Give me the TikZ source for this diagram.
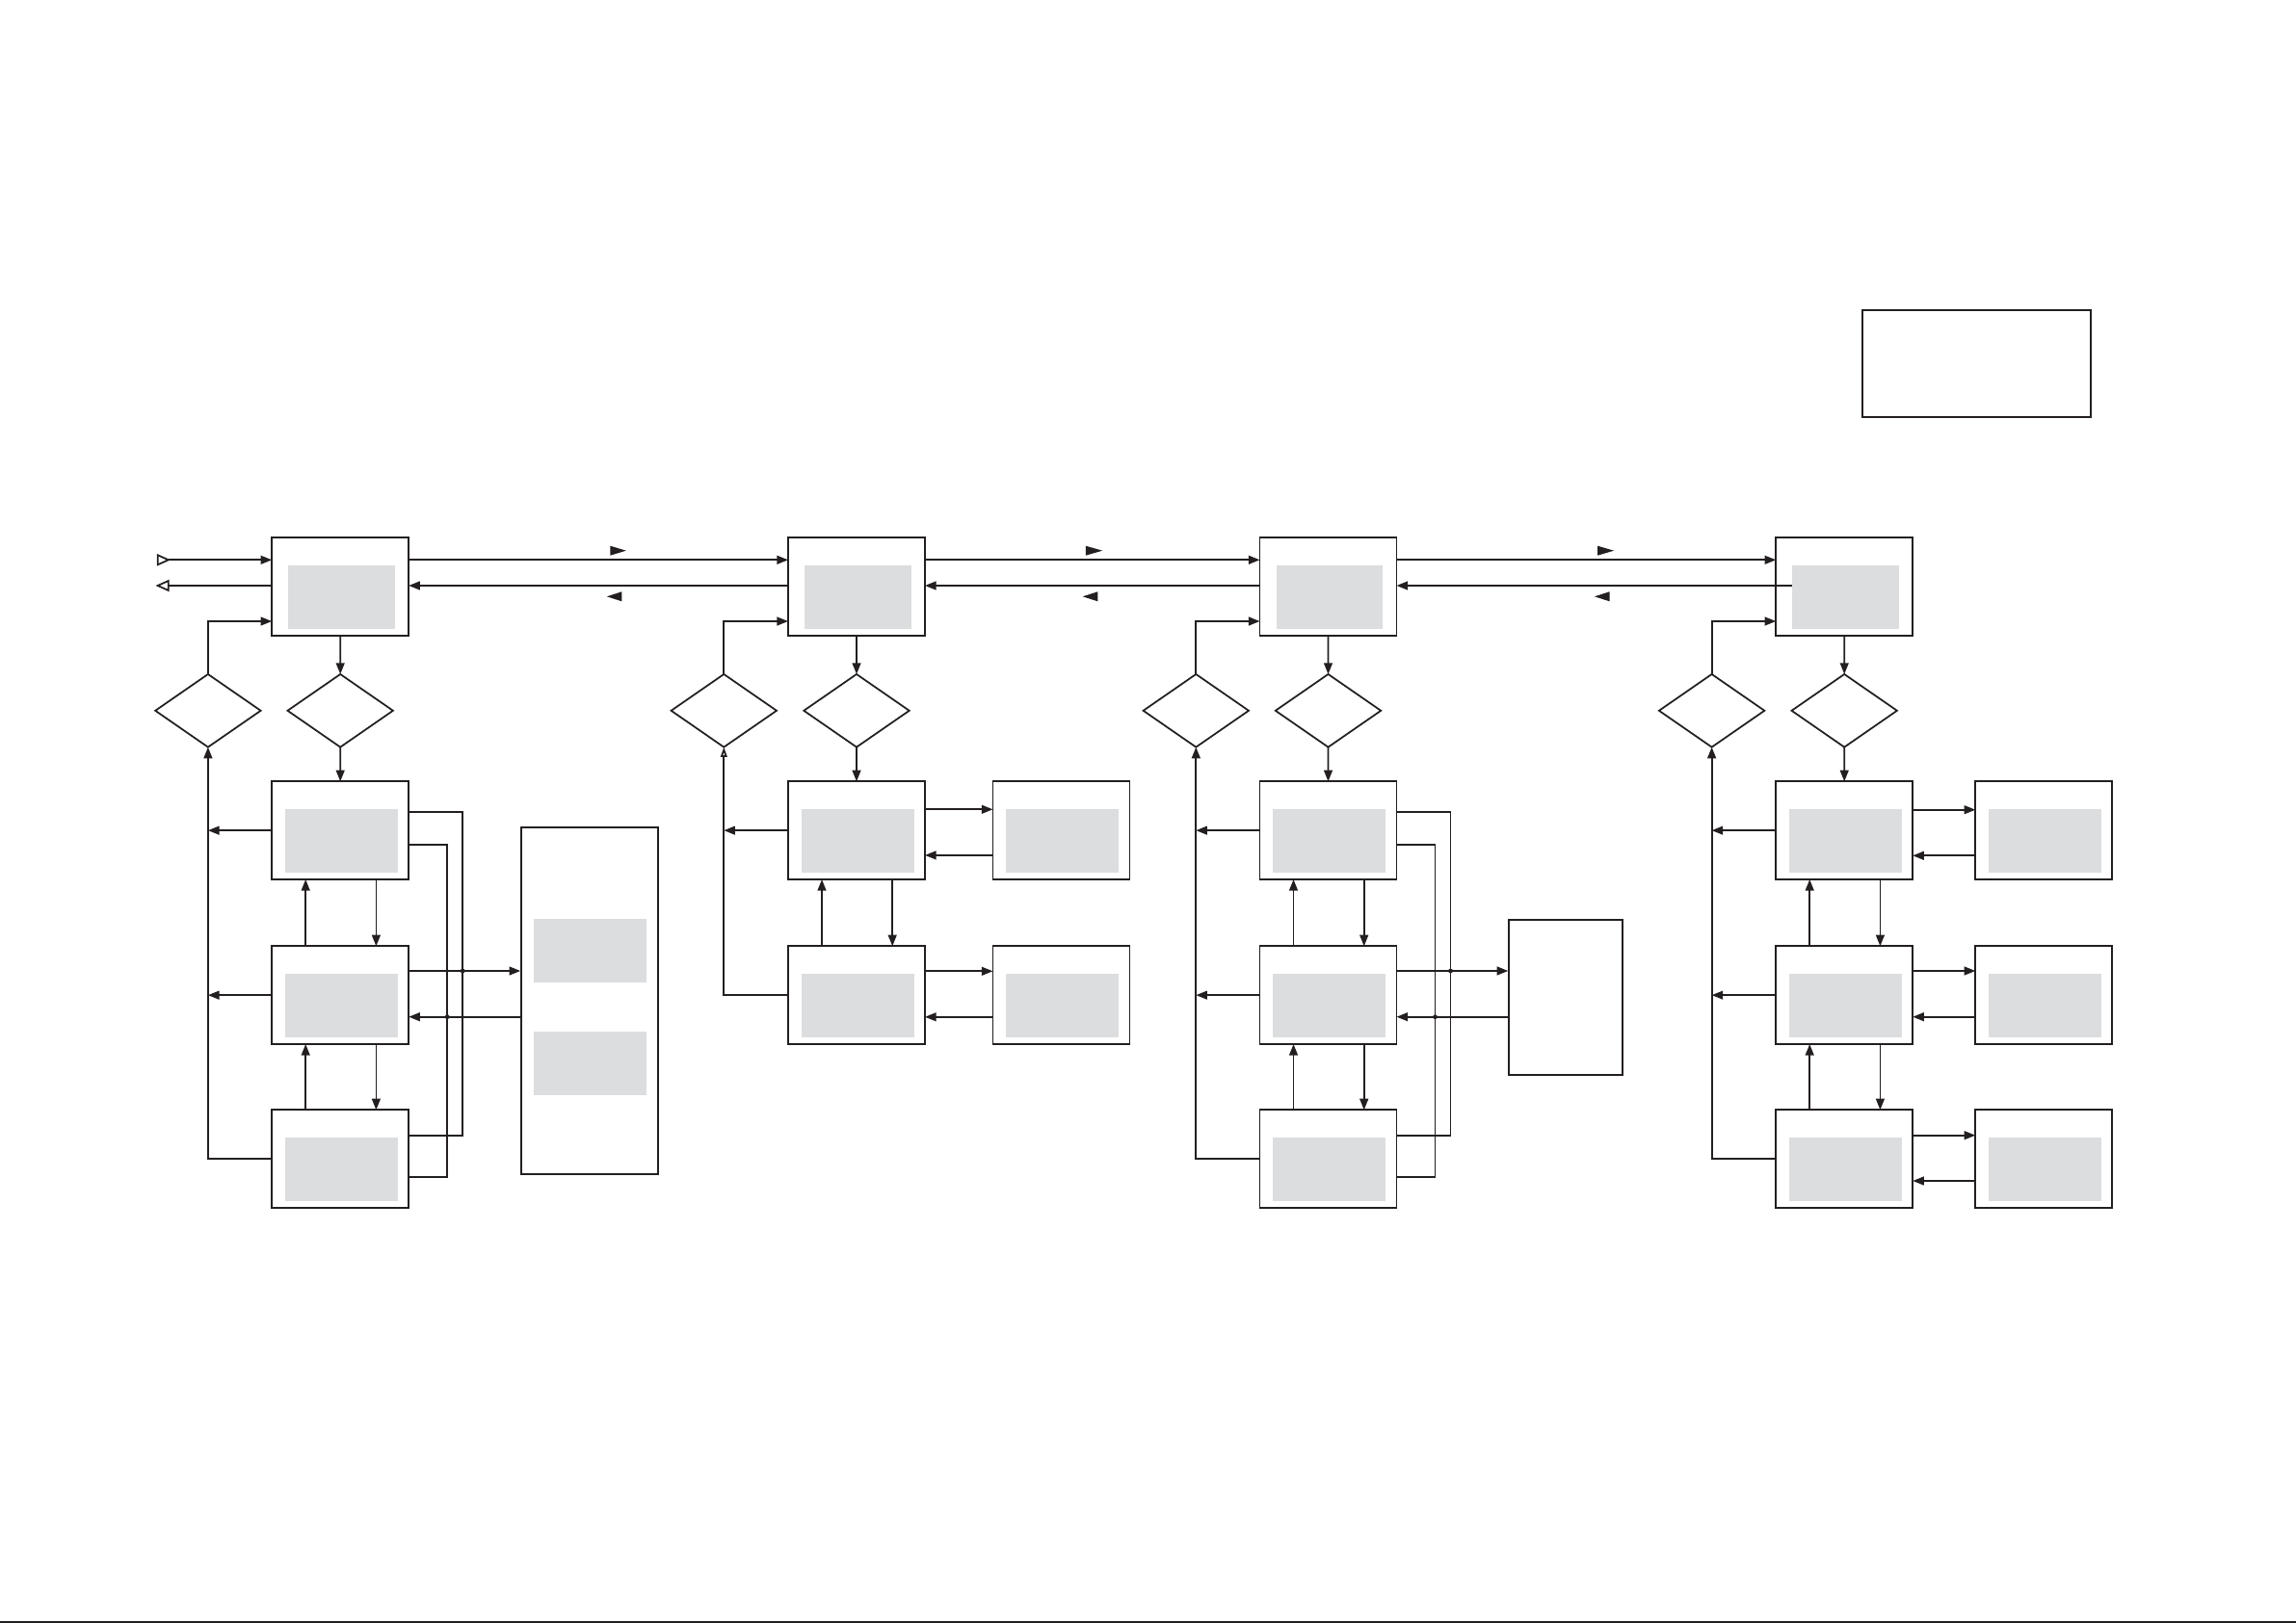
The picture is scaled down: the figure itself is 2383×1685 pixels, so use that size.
\documentclass[tikz,border=0pt]{standalone}
\usetikzlibrary{arrows.meta,shapes.geometric,calc}
\definecolor{ink}{RGB}{35,31,32}
\definecolor{boxgray}{RGB}{220,221,223}
\tikzset{
  unitbox/.style={draw=ink, line width=0.55pt, inner sep=0pt, outer sep=0pt, minimum width=14.2mm, anchor=north west},
  rowbox/.style={unitbox, minimum height=10.17mm},
  topbox/.style={unitbox, minimum height=10.23mm},
  dia/.style={draw=ink, line width=0.5pt, shape=diamond, inner sep=0pt, outer sep=0pt, minimum width=10.94mm, minimum height=7.57mm},
  wire/.style={draw=ink, line width=0.5pt},
  arr/.style={wire, -{Triangle[length=3.3pt,width=2.5pt]}},
  oarr/.style={wire, -{Triangle[open,length=2.9pt,width=1.9pt]}},
  flagtri/.style={fill=ink},
}
\newcommand\rowboxat[3]{\node[rowbox] (#1) at (#2,#3) {};
  \fill[boxgray] ({#2+13.7},{#3+28.7}) rectangle ({#2+130.6},{#3+94.7});}
\newcommand\topboxat[3]{\node[topbox] (#1) at (#2,#3) {};
  \fill[boxgray] ({#2+17},{#3+29}) rectangle ({#2+127.5},{#3+95});}
\begin{document}
\begin{tikzpicture}[x=0.1mm,y=-0.1mm]
\useasboundingbox (0,0) rectangle (2383,1685);

% legend box
\node[draw=ink, line width=0.55pt, anchor=north west, inner sep=0pt, minimum width=23.64mm, minimum height=11.1mm] (K) at (1932.3,321.3) {};

% top row
\topboxat{T1}{282.2}{558}
\topboxat{T2}{818}{558}
\topboxat{T3}{1307.5}{558}
\topboxat{T4}{1843.2}{558}

% column boxes
\rowboxat{A1}{282.2}{811.3}
\rowboxat{B1}{282.2}{982.3}
\rowboxat{C1}{282.2}{1152.3}
\rowboxat{A2}{818}{811.3}
\rowboxat{B2}{818}{982.3}
\rowboxat{SA2}{1030.5}{811.3}
\rowboxat{SB2}{1030.5}{982.3}
\rowboxat{A3}{1307.5}{811.3}
\rowboxat{B3}{1307.5}{982.3}
\rowboxat{C3}{1307.5}{1152.3}
\rowboxat{A4}{1843.2}{811.3}
\rowboxat{B4}{1843.2}{982.3}
\rowboxat{C4}{1843.2}{1152.3}
\rowboxat{SA4}{2050.3}{811.3}
\rowboxat{SB4}{2050.3}{982.3}
\rowboxat{SC4}{2050.3}{1152.3}

% big boxes
\node[draw=ink, line width=0.55pt, anchor=north west, inner sep=0pt, minimum width=14.21mm, minimum height=35.97mm] (M1) at (540.2,858.3) {};
\fill[boxgray] (553.9,954) rectangle (671.2,1019.7);
\fill[boxgray] (553.9,1071) rectangle (671.2,1136.7);
\node[draw=ink, line width=0.55pt, anchor=north west, inner sep=0pt, minimum width=11.8mm, minimum height=16.07mm] (M3) at (1565.3,954.3) {};

% diamonds
\node[dia] (L1d) at (215.9,737.8) {};
\node[dia] (R1d) at (353.2,737.8) {};
\node[dia] (L2d) at (751.3,737.8) {};
\node[dia] (R2d) at (889,737.8) {};
\node[dia] (L3d) at (1241.3,737.8) {};
\node[dia] (R3d) at (1378.5,737.8) {};
\node[dia] (L4d) at (1776.6,737.8) {};
\node[dia] (R4d) at (1914.2,737.8) {};

% top row connectors
\coordinate (yin) at (0,581.3);
\coordinate (yout) at (0,608);
\coordinate (yfb) at (0,645);
\coordinate (inp) at (174.8,581.3);
\coordinate (outp) at (174.8,608);
\coordinate (G4) at (1860.2,608);
\draw[wire] (163.7,576.3) -- (inp) -- (163.7,586.3) -- cycle;
\draw[arr] (inp) -- (T1.west |- yin);
\draw[wire] (163.7,608) -- (174.8,603) -- (174.8,613) -- cycle;
\draw[wire] (T1.west |- yout) -- (outp);
\draw[arr] (T1.east |- yin) -- (T2.west |- yin);
\draw[arr] (T2.east |- yin) -- (T3.west |- yin);
\draw[arr] (T3.east |- yin) -- (T4.west |- yin);
\draw[arr] (T2.west |- yout) -- (T1.east |- yout);
\draw[arr] (T3.west |- yout) -- (T2.east |- yout);
\draw[arr] (G4) -- (T3.east |- yout);

% direction flags
\fill[flagtri] (633.3,566.7) -- (649.8,571.7) -- (633.3,576.7) -- cycle;
\fill[flagtri] (645.3,614.3) -- (629.8,619.3) -- (645.3,624.3) -- cycle;
\fill[flagtri] (1126.8,566.7) -- (1144.2,571.7) -- (1126.8,576.7) -- cycle;
\fill[flagtri] (1139.3,614.3) -- (1123.7,619.3) -- (1139.3,624.3) -- cycle;
\fill[flagtri] (1658,566.7) -- (1675,571.7) -- (1658,576.7) -- cycle;
\fill[flagtri] (1670.5,614.3) -- (1654.9,619.3) -- (1670.5,624.3) -- cycle;

% ---------- column 1
\draw[arr] (T1) -- (R1d);
\draw[arr] (R1d) -- (A1);
\draw[arr] (L1d.north) |- (T1.west |- yfb);
\draw[arr] (C1.west) -| (L1d.south);
\draw[arr] (A1.west) -- (A1.west -| L1d.south);
\draw[arr] (B1.west) -- (B1.west -| L1d.south);
\coordinate (u1) at (317.2,0);
\coordinate (d1) at (390.4,0);
\draw[arr] (B1.north -| u1) -- (A1.south -| u1);
\draw[arr] (A1.south -| d1) -- (B1.north -| d1);
\draw[arr] (C1.north -| u1) -- (B1.south -| u1);
\draw[arr] (B1.south -| d1) -- (C1.north -| d1);
\draw[wire] ($(A1.north east)+(0,32)$) -| ($(C1.north east)+(56,26.7)$) -- ($(C1.north east)+(0,26.7)$);
\draw[wire] ($(A1.north east)+(0,66)$) -| ($(C1.north east)+(40,70)$) -- ($(C1.north east)+(0,70)$);
\coordinate (o1) at ($(B1.north east)+(0,25.7)$);
\coordinate (i1) at ($(B1.north east)+(0,73.4)$);
\draw[arr] (o1) -- (o1 -| M1.west);
\draw[arr] (i1 -| M1.west) -- (i1);
\fill[ink] ($(o1)+(56,0)$) circle[radius=0.24mm];
\fill[ink] ($(i1)+(40,0)$) circle[radius=0.24mm];

% ---------- column 2
\draw[arr] (T2) -- (R2d);
\draw[arr] (R2d) -- (A2);
\draw[arr] (L2d.north) |- (T2.west |- yfb);
\draw[oarr] (B2.west) -| (L2d.south);
\draw[arr] (A2.west) -- (A2.west -| L2d.south);
\coordinate (u2) at (853,0);
\coordinate (d2) at (926.2,0);
\draw[arr] (B2.north -| u2) -- (A2.south -| u2);
\draw[arr] (A2.south -| d2) -- (B2.north -| d2);
\coordinate (a2o) at ($(A2.north east)+(0,29)$);
\coordinate (a2i) at ($(A2.north east)+(0,76.6)$);
\coordinate (b2o) at ($(B2.north east)+(0,26)$);
\coordinate (b2i) at ($(B2.north east)+(0,73.5)$);
\draw[arr] (a2o) -- (a2o -| SA2.west);
\draw[arr] (a2i -| SA2.west) -- (a2i);
\draw[arr] (b2o) -- (b2o -| SB2.west);
\draw[arr] (b2i -| SB2.west) -- (b2i);

% ---------- column 3
\draw[arr] (T3) -- (R3d);
\draw[arr] (R3d) -- (A3);
\draw[arr] (L3d.north) |- (T3.west |- yfb);
\draw[arr] (C3.west) -| (L3d.south);
\draw[arr] (A3.west) -- (A3.west -| L3d.south);
\draw[arr] (B3.west) -- (B3.west -| L3d.south);
\coordinate (u3) at (1342.5,0);
\coordinate (d3) at (1415.7,0);
\draw[arr] (B3.north -| u3) -- (A3.south -| u3);
\draw[arr] (A3.south -| d3) -- (B3.north -| d3);
\draw[arr] (C3.north -| u3) -- (B3.south -| u3);
\draw[arr] (B3.south -| d3) -- (C3.north -| d3);
\draw[wire] ($(A3.north east)+(0,32)$) -| ($(C3.north east)+(56,26.7)$) -- ($(C3.north east)+(0,26.7)$);
\draw[wire] ($(A3.north east)+(0,66)$) -| ($(C3.north east)+(40,70)$) -- ($(C3.north east)+(0,70)$);
\coordinate (o3) at ($(B3.north east)+(0,25.7)$);
\coordinate (i3) at ($(B3.north east)+(0,73.4)$);
\draw[arr] (o3) -- (o3 -| M3.west);
\draw[arr] (i3 -| M3.west) -- (i3);
\fill[ink] ($(o3)+(56,0)$) circle[radius=0.24mm];
\fill[ink] ($(i3)+(40,0)$) circle[radius=0.24mm];

% ---------- column 4
\draw[arr] (T4) -- (R4d);
\draw[arr] (R4d) -- (A4);
\draw[arr] (L4d.north) |- (T4.west |- yfb);
\draw[arr] (C4.west) -| (L4d.south);
\draw[arr] (A4.west) -- (A4.west -| L4d.south);
\draw[arr] (B4.west) -- (B4.west -| L4d.south);
\coordinate (u4) at (1878.2,0);
\coordinate (d4) at (1951.4,0);
\draw[arr] (B4.north -| u4) -- (A4.south -| u4);
\draw[arr] (A4.south -| d4) -- (B4.north -| d4);
\draw[arr] (C4.north -| u4) -- (B4.south -| u4);
\draw[arr] (B4.south -| d4) -- (C4.north -| d4);
\coordinate (a4o) at ($(A4.north east)+(0,29.4)$);
\coordinate (a4i) at ($(A4.north east)+(0,77)$);
\coordinate (b4o) at ($(B4.north east)+(0,25.7)$);
\coordinate (b4i) at ($(B4.north east)+(0,73.4)$);
\coordinate (c4o) at ($(C4.north east)+(0,26.4)$);
\coordinate (c4i) at ($(C4.north east)+(0,73.7)$);
\draw[arr] (a4o) -- (a4o -| SA4.west);
\draw[arr] (a4i -| SA4.west) -- (a4i);
\draw[arr] (b4o) -- (b4o -| SB4.west);
\draw[arr] (b4i -| SB4.west) -- (b4i);
\draw[arr] (c4o) -- (c4o -| SC4.west);
\draw[arr] (c4i -| SC4.west) -- (c4i);

% bottom rule
\draw[ink, line width=0.6pt] (0,1683.8) -- (2383,1683.8);
\end{tikzpicture}
\end{document}
